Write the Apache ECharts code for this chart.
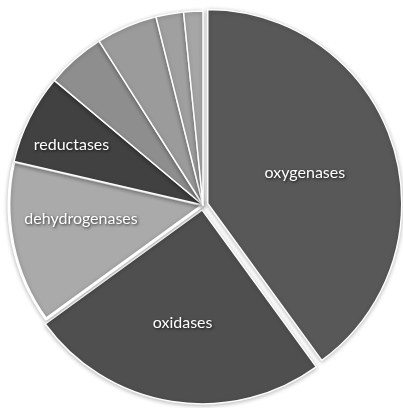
<!DOCTYPE html>
<html>
<head>
<meta charset="utf-8">
<script src="https://cdn.jsdelivr.net/npm/echarts@6/dist/echarts.min.js"></script>
<style>
  html, body { margin: 0; padding: 0; background: #ffffff; }
  #chart { width: 403px; height: 408px; }
</style>
</head>
<body>
<div id="chart"></div>
<script>
// Enzyme classes and their share of the total (%), clockwise from 12 o'clock
const categories = ['oxygenases', 'oxidases', 'dehydrogenases', 'reductases', 'other 1', 'other 2', 'other 3', 'other 4'];
const shares = [40, 25, 13.6, 7.5, 4.9, 5.1, 2.3, 1.6];
const labelled = [true, true, true, true, false, false, false, false];
const exploded = [true, true, false, false, false, false, false, false];

// Grey fill per slice
const fills = ['#585858', '#4f4f4f', '#aaaaaa', '#414141', '#8e8e8e', '#9b9b9b', '#a0a0a0', '#a6a6a6'];
// Nudges that move each name off the mid-radius point
const labelNudges = [[2, 0], [-4, 14], [-24, -6], [-42, -16], [0, 0], [0, 0], [0, 0], [0, 0]];

const data = categories.map((name, i) => ({
  name: name,
  value: shares[i],
  selected: exploded[i],
  itemStyle: {
    color: fills[i],
    borderWidth: i === 2 ? 3 : 1.5
  },
  label: { show: labelled[i], offset: labelNudges[i] },
  select: { label: { show: labelled[i], offset: labelNudges[i] } }
}));

const chart = echarts.init(document.getElementById('chart'), null, { renderer: 'canvas' });
chart.setOption({
  animation: false,
  backgroundColor: '#ffffff',
  series: [{
    type: 'pie',
    center: [203, 205],
    radius: [0, 194],
    startAngle: 90,
    clockwise: true,
    selectedMode: 'multiple',
    selectedOffset: 5,
    avoidLabelOverlap: false,
    emphasis: { disabled: true },
    select: { disabled: false, itemStyle: { borderColor: '#ffffff' } },
    itemStyle: {
      borderColor: '#ffffff',
      borderWidth: 1.5,
      shadowColor: 'rgba(0,0,0,0.25)',
      shadowBlur: 4,
      shadowOffsetY: 1
    },
    label: {
      position: 'inside',
      formatter: '{b}',
      color: '#ffffff',
      fontFamily: 'Lato, "Open Sans", sans-serif',
      fontSize: 16,
      textShadowColor: 'rgba(0,0,0,0.8)',
      textShadowBlur: 3,
      textShadowOffsetX: 1,
      textShadowOffsetY: 1
    },
    labelLine: { show: false },
    data: data
  }]
});
</script>
</body>
</html>
